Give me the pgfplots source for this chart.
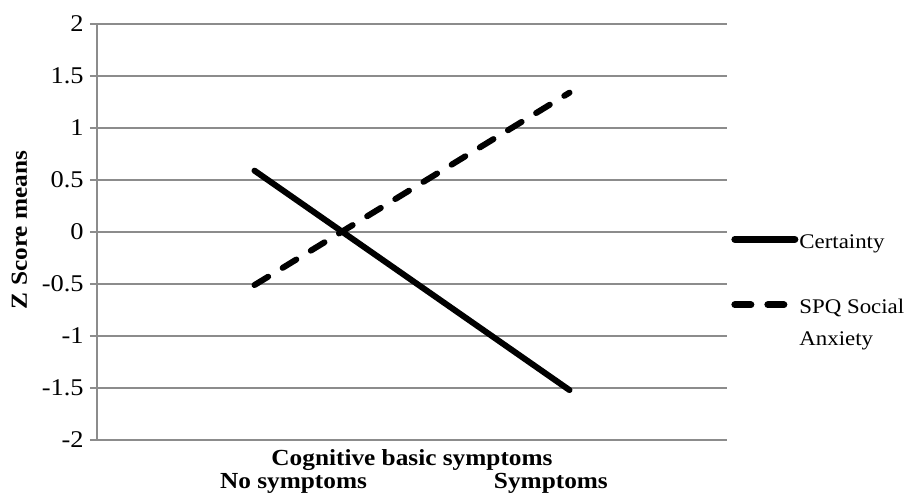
\documentclass[border=0pt]{standalone}
\usepackage{fontspec}
\setmainfont{Liberation Serif}[FakeStretch=1.1]
\usepackage{pgfplots}
\pgfplotsset{compat=1.18}
\definecolor{gridgray}{RGB}{140,140,140}
\begin{document}
\begin{tikzpicture}
\begin{axis}[
  at={(0pt,0pt)}, anchor=south west,
  scale only axis, width=315pt, height=208pt,
  xmin=-0.5, xmax=1.5, ymin=-2, ymax=2,
  axis lines=left,
  axis line style={-, draw=gridgray, line width=0.8pt},
  ytick={-2,-1.5,-1,-0.5,0,0.5,1,1.5,2},
  yticklabels={-2,-1.5,-1,-0.5,0,0.5,1,1.5,2},
  ymajorgrids,
  grid style={draw=gridgray, line width=0.7pt},
  tick align=outside,
  major tick length=3.5pt,
  ytick style={draw=gridgray, line width=0.8pt},
  xtick style={draw=none},
  yticklabel style={font=\fontsize{12}{14}\selectfont, inner sep=0pt, xshift=-3pt},
  xtick={0.124,0.941},
  xticklabels={No symptoms,Symptoms},
  xticklabel style={font=\bfseries\fontsize{11.5}{14}\selectfont, anchor=base, inner sep=0pt, yshift=-20.5pt},
  xlabel={Cognitive basic symptoms},
  xlabel style={at={(axis description cs:0.5,0)}, anchor=base, inner sep=0pt, yshift=-12.5pt, font=\bfseries\fontsize{11.5}{14}\selectfont},
  ylabel={Z Score means},
  ylabel style={at={(axis description cs:0,0.505)}, anchor=center, inner sep=0pt, yshift=38.75pt, font=\bfseries\fontsize{11.5}{14}\selectfont},
  clip=false,
  legend cell align=left,
  legend image code/.code={\draw[#1, line width=3.5pt] (0pt,4.5pt) -- (30pt,4.5pt);},
  legend style={draw=none, fill=none, at={(axis description cs:1.0063,0.5154)}, anchor=north west,
    inner sep=0pt, row sep=20pt, column sep=0.5pt,
    nodes={inner sep=0pt, anchor=base west}, font=\fontsize{10.4}{16}\selectfont},
]
\addplot[black, line width=3pt, line cap=round] coordinates {(0,0.59) (1,-1.52)};
\addlegendentry{\begin{tabular}[t]{@{}l@{}}Certainty\end{tabular}}
\addplot[black, line width=3pt, line cap=round, dash pattern=on 8pt off 8.5pt] coordinates {(0,-0.51) (1,1.34)};
\addlegendentry{\begin{tabular}[t]{@{}l@{}}SPQ Social\\Anxiety\end{tabular}}
\end{axis}
\pgfresetboundingbox
\useasboundingbox (-48.5pt,-27.5pt) rectangle (404.5pt,220pt);
\end{tikzpicture}
\end{document}
